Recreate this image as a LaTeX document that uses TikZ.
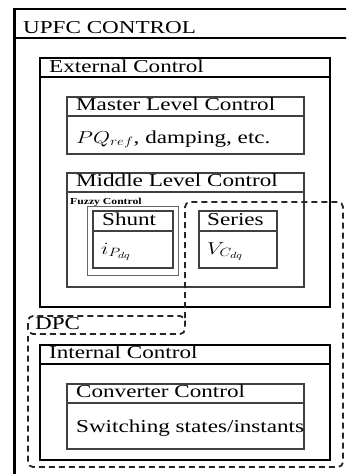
\documentclass[tikz,border=0pt]{standalone}
\usepackage{graphicx}
\usepackage{fontspec}
\setmainfont{Liberation Serif}
\newcommand{\wide}[1]{\scalebox{1.27}[1]{#1}}
\begin{document}
\begin{tikzpicture}[x=1pt,y=-1pt,
  lbl/.style={anchor=base west,inner sep=0pt,font=\fontsize{18.2}{22}\selectfont},
  smalllbl/.style={anchor=base west,inner sep=0pt,font=\fontsize{9.2}{11}\selectfont\bfseries},
  thickbox/.style={draw=black,line width=2pt},
  thinbox/.style={draw=black!75,line width=1.2pt},
  dpc/.style={draw=black!85,line width=1.8pt,dash pattern=on 6pt off 4pt,rounded corners=5pt}]
\useasboundingbox (0,0) rectangle (346,474);
\begin{scope}
\clip (0,0) rectangle (346,474);
% outer UPFC box
\draw[line width=2pt] (14,9) -- (352,9);
\draw[line width=3pt] (14,8) -- (14,480);
\draw[line width=2pt] (14,38) -- (352,38);
\end{scope}
\node[lbl] (upfc) at (23,33) {\wide{UPFC CONTROL}};
% External control
\draw[thickbox] (40,58) rectangle (330,307);
\draw[thickbox] (40,77) -- (330,77);
\node[lbl] (ext) at (49,72) {\wide{External Control}};
% Master level
\draw[thinbox] (67,97) rectangle (304,154);
\draw[thinbox] (67,116) -- (304,116);
\node[lbl] (master) at (76,110) {\wide{Master Level Control}};
\node[lbl] (pq) at (76,143) {\wide{$PQ_{ref}$, damping, etc.}};
% Middle level
\draw[thinbox] (67,173) rectangle (304,287);
\draw[thinbox] (67,192) -- (304,192);
\node[lbl] (middle) at (76,186) {\wide{Middle Level Control}};
\node[smalllbl] (fuzzy) at (70,204) {\wide{Fuzzy Control}};
\draw[draw=black!60,line width=1pt] (87,206) rectangle (178,275);
% Shunt
\draw[thinbox] (93,211) rectangle (173,268);
\draw[thinbox] (93,231) -- (173,231);
\node[lbl] (shunt) at (102,225) {\wide{Shunt}};
\node[lbl] (ip) at (101,254) {\wide{$i_{P_{dq}}$}};
% Series
\draw[thinbox] (199,211) rectangle (277,268);
\draw[thinbox] (199,231) -- (277,231);
\node[lbl] (series) at (207,225) {\wide{Series}};
\node[lbl] (vc) at (207,254) {\wide{$V_{C_{dq}}$}};
% Internal control
\draw[thickbox] (40,345) rectangle (330,460);
\draw[thickbox] (40,364) -- (330,364);
\node[lbl] (int) at (49,358) {\wide{Internal Control}};
% Converter control
\draw[thinbox] (67,384) rectangle (304,449);
\draw[thinbox] (67,403) -- (304,403);
\node[lbl] (conv) at (76,397) {\wide{Converter Control}};
\node[lbl] (sw) at (76,432) {\wide{Switching states/instants}};
% DPC dashed region
\draw[dpc] (28,334) -- (28,316) -- (185,316) -- (185,334) -- cycle;
\draw[dpc] (185,318) -- (185,202) -- (343,202) -- (343,467) -- (28,467) -- (28,336);
\node[lbl] (dpclbl) at (35,329) {\wide{DPC}};
\end{tikzpicture}
\end{document}
